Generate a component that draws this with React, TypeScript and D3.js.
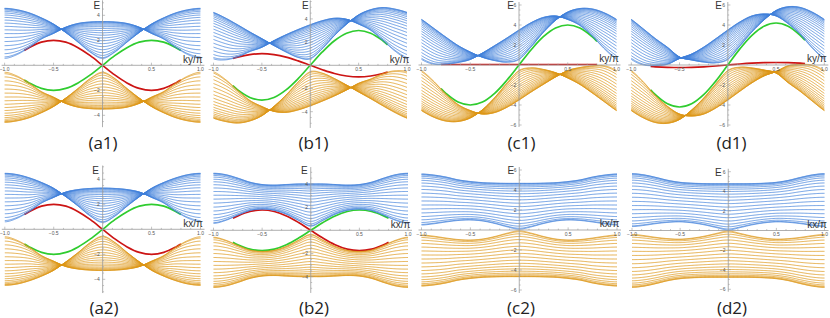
import React from "react";
import * as d3 from "d3";

// ---------- data ----------
const K = [-1, -0.875, -0.75, -0.625, -0.5, -0.375, -0.25, -0.125, 0, 0.125, 0.25, 0.375, 0.5, 0.625, 0.75, 0.875, 1];
const K_EDGE = [-0.8, -0.75, -0.625, -0.5, -0.375, -0.25, -0.125, 0, 0.125, 0.25, 0.375, 0.5, 0.625, 0.75, 0.8];

const X_TICK_VALUES = [-1, -0.5, 0.5, 1];
const X_TICK_LABELS = ["\u22121.0", "\u22120.5", "0.5", "1.0"];
const Y_TICKS_SMALL = [-4, -2, 2, 4];
const Y_TICKS_LARGE = [-6, -4, -2, 2, 4, 6];
const PANEL_LABELS = ["(a1)", "(b1)", "(c1)", "(d1)", "(a2)", "(b2)", "(c2)", "(d2)"];
const AXIS_LABELS = ["ky/\u03c0", "kx/\u03c0"];
const LINES_PER_BAND = 20;

// (a1)
const A1_UP_A = [4.56, 4.45, 4.2, 3.8, 3.3, 2.62, 1.85, 1.05, 0.55, 1.05, 1.85, 2.62, 3.3, 3.8, 4.2, 4.45, 4.56];
const A1_UP_B = [0.56, 0.85, 1.42, 2.1, 2.55, 3.05, 3.35, 3.47, 3.5, 3.47, 3.35, 3.05, 2.55, 2.1, 1.42, 0.85, 0.56];
const A1_LO_A = [-4.56, -4.45, -4.2, -3.8, -3.3, -2.62, -1.85, -1.05, -0.55, -1.05, -1.85, -2.62, -3.3, -3.8, -4.2, -4.45, -4.56];
const A1_LO_B = [-0.56, -0.85, -1.42, -2.1, -2.55, -3.05, -3.35, -3.47, -3.5, -3.47, -3.35, -3.05, -2.55, -2.1, -1.42, -0.85, -0.56];
const A1_RED = [1.18, 1.41, 1.85, 2.0, 1.85, 1.41, 0.77, 0, -0.77, -1.41, -1.85, -2.0, -1.85, -1.41, -1.18];
const A1_GREEN = [-1.18, -1.41, -1.85, -2.0, -1.85, -1.41, -0.77, 0, 0.77, 1.41, 1.85, 2.0, 1.85, 1.41, 1.18];

// (b1)
const B1_UP_A = [4.56, 4.07, 3.49, 2.88, 2.3, 1.7, 1.14, 0.67, 0.55, 1.43, 2.56, 3.54, 4.35, 4.8, 4.98, 4.85, 4.56];
const B1_UP_B = [0.56, 0.47, 0.72, 1.18, 1.55, 2.13, 2.64, 3.09, 3.5, 3.85, 4.06, 3.97, 3.55, 3.02, 2.15, 1.23, 0.56];
const B1_LO_A = [-4.56, -4.85, -4.98, -4.8, -4.35, -3.54, -2.56, -1.43, -0.55, -0.67, -1.14, -1.7, -2.3, -2.88, -3.49, -4.07, -4.56];
const B1_LO_B = [-0.56, -1.23, -2.15, -3.02, -3.55, -3.97, -4.06, -3.85, -3.5, -3.09, -2.64, -2.13, -1.55, -1.18, -0.72, -0.47, -0.56];
const B1_RED = [0.59, 0.71, 0.92, 1.0, 0.92, 0.71, 0.38, 0, -0.38, -0.71, -0.92, -1.0, -0.92, -0.71, -0.59];
const B1_GREEN = [-1.76, -2.12, -2.77, -3.0, -2.77, -2.12, -1.15, 0, 1.15, 2.12, 2.77, 3.0, 2.77, 2.12, 1.76];

// (c1)
const C1_UP_A = [4.56, 3.68, 2.79, 1.95, 1.3, 0.77, 0.44, 0.28, 0.55, 1.82, 3.26, 4.47, 5.3, 5.65, 5.61, 5.22, 4.56];
const C1_UP_B = [0.56, 0.08, 0.09, 0.25, 0.55, 1.2, 1.94, 2.7, 3.5, 4.24, 4.76, 4.9, 4.55, 3.95, 2.91, 1.62, 0.56];
const C1_LO_A = [-4.56, -5.22, -5.61, -5.65, -5.3, -4.47, -3.26, -1.82, -0.55, -0.28, -0.44, -0.77, -1.3, -1.95, -2.79, -3.68, -4.56];
const C1_LO_B = [-0.56, -1.62, -2.91, -3.95, -4.55, -4.9, -4.76, -4.24, -3.5, -2.7, -1.94, -1.2, -0.55, -0.25, -0.09, -0.08, -0.56];
const C1_RED = [0.05, 0.05, 0.05, 0.05, 0.05, 0.05, 0.05, 0.05, 0.05, 0.05, 0.05, 0.05, 0.05, 0.05, 0.05];
const C1_GREEN = [-2.35, -2.83, -3.7, -4.0, -3.7, -2.83, -1.53, 0, 1.53, 2.83, 3.7, 4.0, 3.7, 2.83, 2.35];

// (d1)
const D1_UP_A = [4.56, 3.61, 2.64, 1.77, 0.8, 0.5, 0.29, 0.21, 0.55, 1.89, 3.3, 4.5, 5.45, 5.83, 5.76, 5.29, 4.56];
const D1_UP_B = [0.56, 0.01, -0.06, 0.07, 0.65, 1.1, 1.79, 2.63, 3.5, 4.31, 4.91, 5.1, 4.9, 4.13, 3.06, 1.69, 0.56];
const D1_LO_A = [-4.56, -5.29, -5.76, -5.83, -5.45, -4.5, -3.3, -1.89, -0.55, -0.21, -0.29, -0.5, -0.8, -1.77, -2.64, -3.61, -4.56];
const D1_LO_B = [-0.56, -1.69, -3.06, -4.13, -4.9, -5.1, -4.91, -4.31, -3.5, -2.63, -1.79, -1.1, -0.65, -0.07, 0.06, -0.01, -0.56];
const D1_RED = [-0.15, -0.18, -0.23, -0.25, -0.23, -0.18, -0.1, 0, 0.1, 0.18, 0.23, 0.25, 0.23, 0.18, 0.15];
const D1_GREEN = [-2.47, -2.97, -3.88, -4.2, -3.88, -2.97, -1.61, 0, 1.61, 2.97, 3.88, 4.2, 3.88, 2.97, 2.47];

// (a2)
const A2_UP_A = [4.48, 4.38, 4.12, 3.75, 3.28, 2.6, 1.85, 1.05, 0.55, 1.05, 1.85, 2.6, 3.28, 3.75, 4.12, 4.38, 4.48];
const A2_UP_B = [0.6, 0.88, 1.42, 2.1, 2.55, 2.98, 3.18, 3.27, 3.3, 3.27, 3.18, 2.98, 2.55, 2.1, 1.42, 0.88, 0.6];
const A2_LO_A = [-4.48, -4.38, -4.12, -3.75, -3.28, -2.6, -1.85, -1.05, -0.55, -1.05, -1.85, -2.6, -3.28, -3.75, -4.12, -4.38, -4.48];
const A2_LO_B = [-0.6, -0.88, -1.42, -2.1, -2.55, -2.98, -3.18, -3.27, -3.3, -3.27, -3.18, -2.98, -2.55, -2.1, -1.42, -0.88, -0.6];
const A2_RED = [1.18, 1.41, 1.85, 2.0, 1.85, 1.41, 0.77, 0, -0.77, -1.41, -1.85, -2.0, -1.85, -1.41, -1.18];
const A2_GREEN = [-1.18, -1.41, -1.85, -2.0, -1.85, -1.41, -0.77, 0, 0.77, 1.41, 1.85, 2.0, 1.85, 1.41, 1.18];

// (b2)
const B2_UP_A = [4.92, 4.8, 4.5, 4.15, 3.95, 3.9, 3.95, 4.0, 4.0, 4.0, 3.95, 3.9, 3.95, 4.15, 4.5, 4.8, 4.92];
const B2_UP_B = [0.6, 0.85, 1.3, 1.7, 1.82, 1.72, 1.38, 0.85, 0.35, 0.85, 1.38, 1.72, 1.82, 1.7, 1.3, 0.85, 0.6];
const B2_LO_A = [-4.92, -4.8, -4.5, -4.15, -3.95, -3.9, -3.95, -4.0, -4.0, -4.0, -3.95, -3.9, -3.95, -4.15, -4.5, -4.8, -4.92];
const B2_LO_B = [-0.6, -0.85, -1.3, -1.7, -1.82, -1.72, -1.38, -0.85, -0.35, -0.85, -1.38, -1.72, -1.82, -1.7, -1.3, -0.85, -0.6];
const B2_RED = [1.03, 1.24, 1.62, 1.75, 1.62, 1.24, 0.67, 0, -0.67, -1.24, -1.62, -1.75, -1.62, -1.24, -1.03];
const B2_GREEN = [-1.03, -1.24, -1.62, -1.75, -1.62, -1.24, -0.67, 0, 0.67, 1.24, 1.62, 1.75, 1.62, 1.24, 1.03];

// (c2)
const C2_UP_A = [5.6, 5.5, 5.3, 5.02, 4.85, 4.74, 4.69, 4.67, 4.67, 4.67, 4.69, 4.74, 4.85, 5.02, 5.3, 5.5, 5.6];
const C2_UP_B = [0.5, 0.62, 0.8, 0.95, 1.0, 0.9, 0.65, 0.32, 0.08, 0.32, 0.65, 0.9, 1.0, 0.95, 0.8, 0.62, 0.5];
const C2_LO_A = [-5.6, -5.5, -5.3, -5.02, -4.85, -4.74, -4.69, -4.67, -4.67, -4.67, -4.69, -4.74, -4.85, -5.02, -5.3, -5.5, -5.6];
const C2_LO_B = [-0.5, -0.62, -0.8, -0.95, -1.0, -0.9, -0.65, -0.32, -0.08, -0.32, -0.65, -0.9, -1.0, -0.95, -0.8, -0.62, -0.5];

// (d2)
const D2_UP_A = [5.8, 5.68, 5.42, 5.12, 4.92, 4.83, 4.79, 4.78, 4.78, 4.78, 4.79, 4.83, 4.92, 5.12, 5.42, 5.68, 5.8];
const D2_UP_B = [0.4, 0.52, 0.7, 0.83, 0.88, 0.78, 0.58, 0.3, 0.05, 0.3, 0.58, 0.78, 0.88, 0.83, 0.7, 0.52, 0.4];
const D2_LO_A = [-5.8, -5.68, -5.42, -5.12, -4.92, -4.83, -4.79, -4.78, -4.78, -4.78, -4.79, -4.83, -4.92, -5.12, -5.42, -5.68, -5.8];
const D2_LO_B = [-0.4, -0.52, -0.7, -0.83, -0.88, -0.78, -0.58, -0.3, -0.05, -0.3, -0.58, -0.78, -0.88, -0.83, -0.7, -0.52, -0.4];

// ---------- layout & style ----------
const BLUE = "#3f7fd9";
const ORANGE = "#dc9516";
const RED = "#cc1414";
const GREEN = "#2fcc2f";
const AXIS = "#9a9a9a";
const TICK_TEXT = "#555";

type PanelData = { upA: number[]; upB: number[]; loA: number[]; loB: number[]; red: number[] | null; green: number[] | null };

const DATA: PanelData[] = [
  { upA: A1_UP_A, upB: A1_UP_B, loA: A1_LO_A, loB: A1_LO_B, red: A1_RED, green: A1_GREEN },
  { upA: B1_UP_A, upB: B1_UP_B, loA: B1_LO_A, loB: B1_LO_B, red: B1_RED, green: B1_GREEN },
  { upA: C1_UP_A, upB: C1_UP_B, loA: C1_LO_A, loB: C1_LO_B, red: C1_RED, green: C1_GREEN },
  { upA: D1_UP_A, upB: D1_UP_B, loA: D1_LO_A, loB: D1_LO_B, red: D1_RED, green: D1_GREEN },
  { upA: A2_UP_A, upB: A2_UP_B, loA: A2_LO_A, loB: A2_LO_B, red: A2_RED, green: A2_GREEN },
  { upA: B2_UP_A, upB: B2_UP_B, loA: B2_LO_A, loB: B2_LO_B, red: B2_RED, green: B2_GREEN },
  { upA: C2_UP_A, upB: C2_UP_B, loA: C2_LO_A, loB: C2_LO_B, red: null, green: null },
  { upA: D2_UP_A, upB: D2_UP_B, loA: D2_LO_A, loB: D2_LO_B, red: null, green: null },
];

const LAYOUT = [
  { x0: 4.6, x1: 200.4, y0: 65.3, s: 12.5, eMin: -4.95, eMax: 5.2, large: false, eDx: -2.4, eY: 8.6, lx: 103, ly: 148.5, row: 0, p: 2 },
  { x0: 213.5, x1: 407, y0: 65.3, s: 11.6, eMin: -5.4, eMax: 5.6, large: false, eDx: -1.5, eY: 8.6, lx: 313.5, ly: 148.5, row: 0, p: 2 },
  { x0: 421.5, x1: 616.5, y0: 65, s: 10, eMin: -6.2, eMax: 6.3, large: true, eDx: -5, eY: 8.6, lx: 521.5, ly: 148.5, row: 0, p: 2 },
  { x0: 631.3, x1: 824.3, y0: 65, s: 10, eMin: -6.2, eMax: 6.3, large: true, eDx: -6, eY: 8.6, lx: 731.5, ly: 148.5, row: 0, p: 2 },
  { x0: 4.8, x1: 200.5, y0: 229.3, s: 12.5, eMin: -5.1, eMax: 5.1, large: false, eDx: -3.8, eY: 173.6, lx: 104, ly: 313.5, row: 1, p: 2 },
  { x0: 213.5, x1: 408, y0: 230.3, s: 11.6, eMin: -5.4, eMax: 5.45, large: false, eDx: -3, eY: 173.6, lx: 314, ly: 313.5, row: 1, p: 1.5 },
  { x0: 421.5, x1: 617, y0: 230, s: 10, eMin: -6.3, eMax: 6.3, large: true, eDx: -5.2, eY: 173.6, lx: 521, ly: 313.5, row: 1, p: 1.4 },
  { x0: 632, x1: 824.5, y0: 230.5, s: 9.8, eMin: -6.25, eMax: 6.3, large: true, eDx: -6.6, eY: 176.3, lx: 732, ly: 313.5, row: 1, p: 1.4 },
];

// periodic cubic Hermite (Catmull-Rom) evaluation of a sampled band edge
function evalEdge(ys: number[], k: number): number {
  const n = K.length;
  const h = K[1] - K[0];
  const i = Math.min(n - 2, Math.max(0, Math.floor((k - K[0]) / h)));
  const t = (k - K[i]) / h;
  const tan = (j: number) => {
    const prev = j === 0 ? ys[n - 2] : ys[j - 1];
    const next = j === n - 1 ? ys[1] : ys[j + 1];
    return (next - prev) / 2;
  };
  const m0 = tan(i);
  const m1 = tan(i + 1);
  const t2 = t * t;
  const t3 = t2 * t;
  return (2 * t3 - 3 * t2 + 1) * ys[i] + (t3 - 2 * t2 + t) * m0 + (-2 * t3 + 3 * t2) * ys[i + 1] + (t3 - t2) * m1;
}

const FINE_K = d3.range(0, 241).map((i) => -1 + i / 120);

function Panel({ idx }: { idx: number }) {
  const L = LAYOUT[idx];
  const D = DATA[idx];
  const x = d3.scaleLinear().domain([-1, 1]).range([L.x0, L.x1]);
  const y = d3.scaleLinear().domain([0, 1]).range([L.y0, L.y0 - L.s]);
  const line = d3
    .line<[number, number]>()
    .x((d) => x(d[0]))
    .y((d) => y(d[1]));
  const edgeLine = d3
    .line<[number, number]>()
    .x((d) => x(d[0]))
    .y((d) => y(d[1]))
    .curve(d3.curveCatmullRom);

  const env = FINE_K.map((k) => {
    const a = evalEdge(D.upA, k);
    const b = evalEdge(D.upB, k);
    const c = evalEdge(D.loA, k);
    const e = evalEdge(D.loB, k);
    const mid = (a + b + c + e) / 4;
    return { k, mid, P: Math.abs(a - mid), Q: Math.abs(b - mid), Pl: Math.abs(mid - c), Ql: Math.abs(mid - e) };
  });

  const p = L.p;
  const bandPaths = (upper: boolean) =>
    d3.range(LINES_PER_BAND).map((n) => {
      const q = (Math.PI * n) / (LINES_PER_BAND - 1);
      const w = (1 + Math.cos(q)) / 2;
      const pts: [number, number][] = env.map((o) => {
        const P = upper ? o.P : o.Pl;
        const Q = upper ? o.Q : o.Ql;
        const r = Math.pow(Math.max(0, Math.pow(P, p) * w + Math.pow(Q, p) * (1 - w)), 1 / p);
        return [o.k, upper ? o.mid + r : o.mid - r];
      });
      return line(pts) as string;
    });

  const upperPaths = bandPaths(true);
  const lowerPaths = bandPaths(false);

  const yTicks = L.large ? Y_TICKS_LARGE : Y_TICKS_SMALL;
  const minorY = d3.range(Math.ceil(L.eMin * 2) / 2, L.eMax, 0.5).filter((v) => Math.abs(v) > 1e-6 && !yTicks.includes(v));
  const minorX = d3.range(-10, 11).map((v) => v / 10).filter((v) => Math.abs(v) > 1e-6);
  const xa = x(0);
  const ya = y(0);

  return (
    <g>
      {D.red && (
        <path d={edgeLine(K_EDGE.map((k, i) => [k, D.red![i]]) as [number, number][]) as string} fill="none" stroke={RED} strokeWidth={1.7} />
      )}
      {D.green && (
        <path d={edgeLine(K_EDGE.map((k, i) => [k, D.green![i]]) as [number, number][]) as string} fill="none" stroke={GREEN} strokeWidth={1.7} />
      )}
      {upperPaths.map((d, i) => (
        <path key={"u" + i} d={d} fill="none" stroke={BLUE} strokeWidth={0.75} />
      ))}
      {lowerPaths.map((d, i) => (
        <path key={"l" + i} d={d} fill="none" stroke={ORANGE} strokeWidth={0.75} />
      ))}
      {/* axes */}
      <line x1={L.x0 - 3} x2={L.x1 + 4} y1={ya} y2={ya} stroke={AXIS} strokeWidth={0.8} />
      <line x1={xa} x2={xa} y1={y(L.eMax)} y2={y(L.eMin)} stroke={AXIS} strokeWidth={0.8} />
      {minorX.map((v) => {
        const major = Math.abs(v * 2 - Math.round(v * 2)) < 1e-6;
        return <line key={"xt" + v} x1={x(v)} x2={x(v)} y1={ya} y2={ya - (major ? 2.6 : 1.4)} stroke={AXIS} strokeWidth={0.6} />;
      })}
      {yTicks.map((v) => (
        <line key={"yt" + v} x1={xa} x2={xa + 2.6} y1={y(v)} y2={y(v)} stroke={AXIS} strokeWidth={0.6} />
      ))}
      {minorY.map((v) => (
        <line key={"ym" + v} x1={xa} x2={xa + 1.4} y1={y(v)} y2={y(v)} stroke={AXIS} strokeWidth={0.6} />
      ))}
      {X_TICK_VALUES.map((v, i) => (
        <text key={"xl" + v} x={x(v)} y={ya + 5.6} fontSize={5} fill={TICK_TEXT} textAnchor="middle" fontFamily="Liberation Sans, Arial, sans-serif">
          {X_TICK_LABELS[i]}
        </text>
      ))}
      {yTicks.map((v) => (
        <text key={"yl" + v} x={xa - 2.8} y={y(v) + 1.8} fontSize={5} fill={TICK_TEXT} textAnchor="end" fontFamily="Liberation Sans, Arial, sans-serif">
          {v < 0 ? "\u2212" + Math.abs(v) : String(v)}
        </text>
      ))}
      <text x={xa + L.eDx} y={L.eY} fontSize={10} fill="#333" textAnchor="end" fontFamily="Liberation Sans, Arial, sans-serif">
        E
      </text>
      <text x={L.x1 - 7.5} y={ya - 2.6} fontSize={10} fill="#333" textAnchor="middle" fontFamily="Liberation Sans, Arial, sans-serif">
        {AXIS_LABELS[L.row]}
      </text>
      <text x={L.lx} y={L.ly} fontSize={17} fill="#222" textAnchor="middle" fontFamily="Open Sans, Liberation Sans, sans-serif">
        {PANEL_LABELS[idx]}
      </text>
    </g>
  );
}

export default function App() {
  return (
    <div style={{ position: "absolute", left: 0, top: 0 }}>
      <svg width={830} height={318} viewBox="0 0 830 318" style={{ display: "block", background: "#fff" }}>
        {LAYOUT.map((_, i) => (
          <Panel key={i} idx={i} />
        ))}
      </svg>
    </div>
  );
}
